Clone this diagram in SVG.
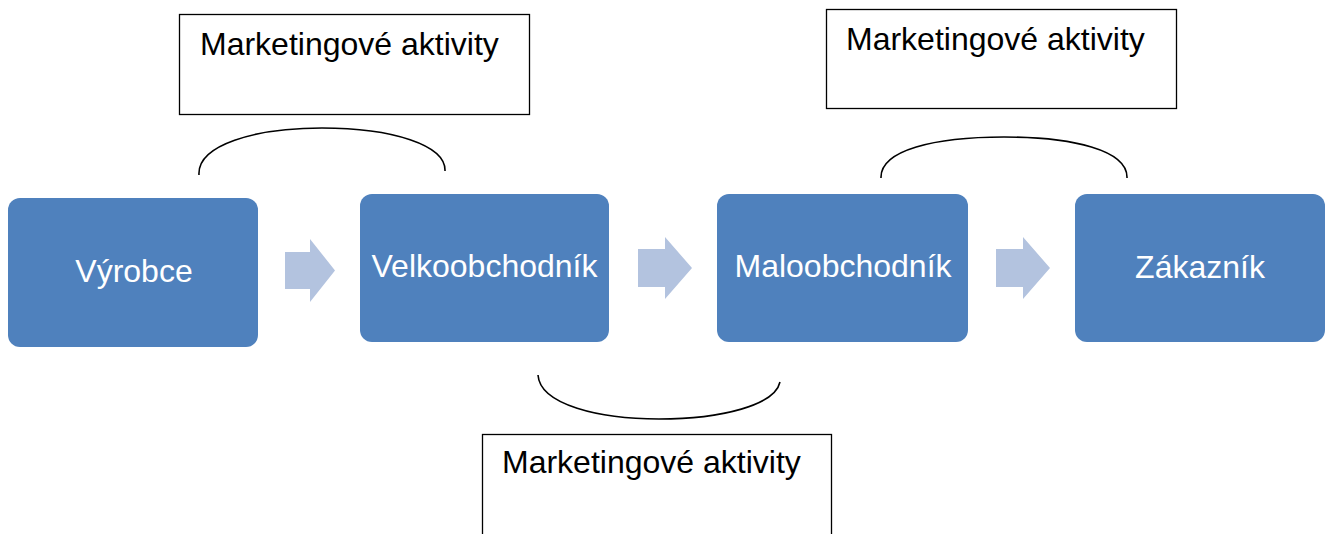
<svg xmlns="http://www.w3.org/2000/svg" width="1330" height="534" viewBox="0 0 1330 534">
<style>
.node{fill:#4F81BD}
.ntext{font-family:"Liberation Sans",Arial,sans-serif;font-size:32px;fill:#FFFFFF;text-anchor:middle}
.mbox{fill:#FFFFFF;stroke:#000000;stroke-width:1.3}
.mtext{font-family:"Liberation Sans",Arial,sans-serif;font-size:32px;fill:#000000}
.arrow{fill:#B3C3DF}
.arc{fill:none;stroke:#000000;stroke-width:1.6}
</style>
<rect width="1330" height="534" fill="#FFFFFF"/>
<g id="connectors">
<polygon class="arrow" points="285,252 310,252 310,239 335,270.5 310,302 310,289 285,289"/>
<polygon class="arrow" points="638,249 665,249 665,237 692,268 665,299 665,287 638,287"/>
<polygon class="arrow" points="996,249 1023,249 1023,237 1050,268 1023,299 1023,287 996,287"/>
<path class="arc" d="M199,175 C197,145 255,128 322,128 C392,128 446,145 445,171"/>
<path class="arc" d="M538,375 C540,405 600,419 659,419 C722,419 775,405 780,382"/>
<path class="arc" d="M881,178 C880,150 935,137 1004,137 C1072,137 1128,150 1127,178"/>
</g>
<g id="node-vyrobce">
<rect class="node" x="8" y="198" width="250" height="149" rx="12"/>
<text class="ntext" x="134" y="282">Výrobce</text>
</g>
<g id="node-velkoobchodnik">
<rect class="node" x="360" y="194" width="249" height="148" rx="12"/>
<text class="ntext" x="484.5" y="277">Velkoobchodník</text>
</g>
<g id="node-maloobchodnik">
<rect class="node" x="717" y="194" width="251" height="148" rx="12"/>
<text class="ntext" x="843" y="277">Maloobchodník</text>
</g>
<g id="node-zakaznik">
<rect class="node" x="1075" y="194" width="250" height="148" rx="12"/>
<text class="ntext" x="1200" y="278">Zákazník</text>
</g>
<g id="note-1">
<rect class="mbox" x="179.5" y="14.5" width="350" height="100"/>
<text class="mtext" x="200" y="55">Marketingové aktivity</text>
</g>
<g id="note-2">
<rect class="mbox" x="482.5" y="434.5" width="349" height="110"/>
<text class="mtext" x="502" y="473">Marketingové aktivity</text>
</g>
<g id="note-3">
<rect class="mbox" x="826.5" y="9.5" width="350" height="99"/>
<text class="mtext" x="846" y="50">Marketingové aktivity</text>
</g>
</svg>
